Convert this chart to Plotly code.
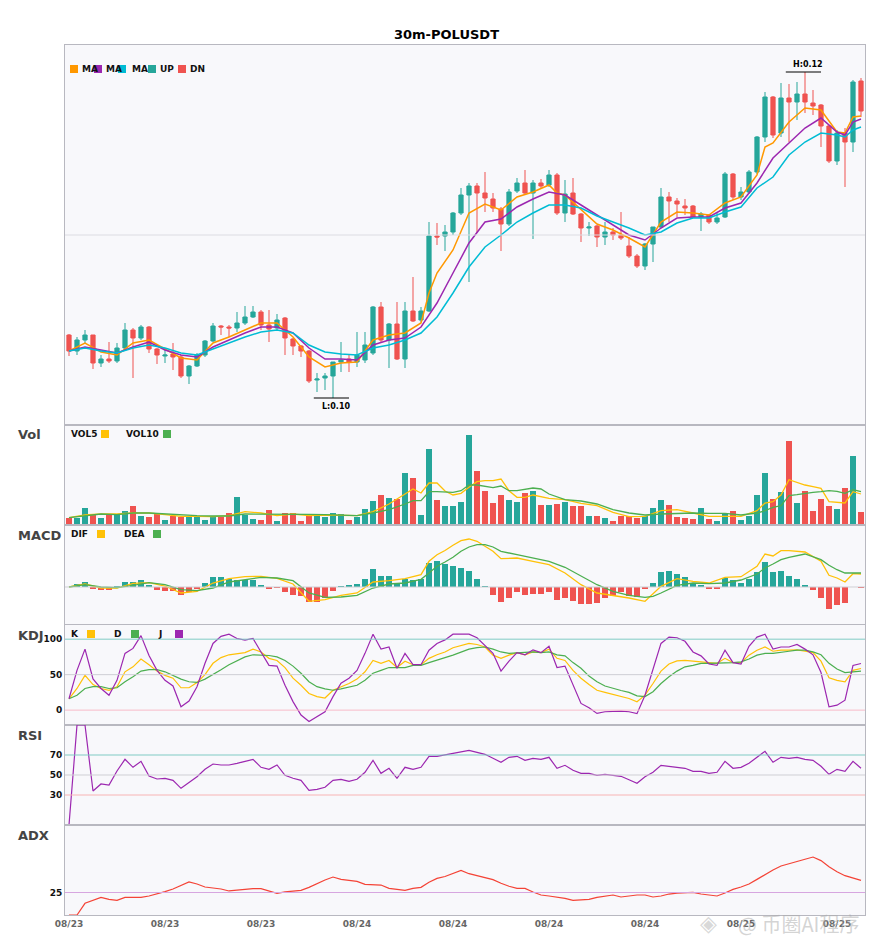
import plotly.graph_objects as go
from plotly.subplots import make_subplots

# 30m candles, index 0 = 08/23 06:00
opens = [0.10500, 0.10420, 0.10475, 0.10500, 0.10360, 0.10380, 0.10370, 0.10435, 0.10525, 0.10485,
         0.10540, 0.10430, 0.10395, 0.10405, 0.10390, 0.10295, 0.10345, 0.10400, 0.10470, 0.10545,
         0.10540, 0.10535, 0.10560, 0.10590, 0.10615, 0.10550, 0.10535, 0.10585, 0.10480, 0.10445,
         0.10420, 0.10275, 0.10285, 0.10295, 0.10365, 0.10380, 0.10365, 0.10375, 0.10410, 0.10640,
         0.10475, 0.10555, 0.10380, 0.10620, 0.10575, 0.10620, 0.10995, 0.10995, 0.11015, 0.11110,
         0.11200, 0.11245, 0.11210, 0.11180, 0.11130, 0.11055, 0.11220, 0.11260, 0.11210, 0.11260,
         0.11250, 0.11300, 0.11110, 0.11210, 0.11105, 0.11035, 0.11045, 0.10990, 0.11015, 0.11000,
         0.10945, 0.10895, 0.10845, 0.10955, 0.11040, 0.11190, 0.11170, 0.11145, 0.11145, 0.11090,
         0.11100, 0.11065, 0.11090, 0.11305, 0.11190, 0.11215, 0.11315, 0.11490, 0.11690, 0.11510,
         0.11685, 0.11665, 0.11705, 0.11660, 0.11650, 0.11545, 0.11370, 0.11510, 0.11465, 0.11770]
highs = [0.10505, 0.10490, 0.10525, 0.10500, 0.10400, 0.10465, 0.10460, 0.10560, 0.10535, 0.10550,
         0.10545, 0.10435, 0.10425, 0.10460, 0.10400, 0.10350, 0.10410, 0.10475, 0.10560, 0.10550,
         0.10550, 0.10615, 0.10645, 0.10645, 0.10625, 0.10625, 0.10605, 0.10590, 0.10485, 0.10450,
         0.10425, 0.10310, 0.10310, 0.10365, 0.10465, 0.10400, 0.10515, 0.10515, 0.10645, 0.10665,
         0.10560, 0.10665, 0.10665, 0.10790, 0.10640, 0.11065, 0.11060, 0.11050, 0.11115, 0.11235,
         0.11260, 0.11260, 0.11315, 0.11210, 0.11140, 0.11230, 0.11285, 0.11325, 0.11275, 0.11280,
         0.11325, 0.11310, 0.11275, 0.11285, 0.11110, 0.11065, 0.11050, 0.11065, 0.11035, 0.11115,
         0.10990, 0.10905, 0.10960, 0.11040, 0.11235, 0.11215, 0.11185, 0.11180, 0.11150, 0.11115,
         0.11105, 0.11115, 0.11315, 0.11310, 0.11240, 0.11325, 0.11495, 0.11715, 0.11695, 0.11760,
         0.11755, 0.11765, 0.11815, 0.11725, 0.11655, 0.11550, 0.11525, 0.11535, 0.11775, 0.11785]
lows = [0.10395, 0.10400, 0.10460, 0.10330, 0.10340, 0.10360, 0.10360, 0.10425, 0.10285, 0.10475,
        0.10410, 0.10355, 0.10360, 0.10325, 0.10285, 0.10255, 0.10340, 0.10390, 0.10465, 0.10500,
        0.10490, 0.10515, 0.10550, 0.10585, 0.10525, 0.10465, 0.10525, 0.10400, 0.10400, 0.10390,
        0.10260, 0.10215, 0.10225, 0.10185, 0.10315, 0.10315, 0.10340, 0.10360, 0.10400, 0.10465,
        0.10335, 0.10375, 0.10335, 0.10565, 0.10565, 0.10615, 0.10950, 0.10920, 0.11000, 0.11100,
        0.10765, 0.11010, 0.11115, 0.11115, 0.10920, 0.11045, 0.11210, 0.11200, 0.10980, 0.11235,
        0.11240, 0.11100, 0.11065, 0.11100, 0.10965, 0.10995, 0.10940, 0.10950, 0.10975, 0.10975,
        0.10885, 0.10835, 0.10825, 0.10865, 0.11035, 0.11065, 0.11090, 0.11100, 0.11085, 0.11020,
        0.11055, 0.11055, 0.11085, 0.11175, 0.11175, 0.11205, 0.11305, 0.11465, 0.11485, 0.11490,
        0.11465, 0.11575, 0.11610, 0.11600, 0.11440, 0.11360, 0.11350, 0.11240, 0.11415, 0.11590]
closes = [0.10420, 0.10475, 0.10500, 0.10360, 0.10380, 0.10370, 0.10435, 0.10525, 0.10485, 0.10540,
          0.10430, 0.10400, 0.10400, 0.10390, 0.10295, 0.10345, 0.10400, 0.10470, 0.10545, 0.10540,
          0.10535, 0.10560, 0.10590, 0.10615, 0.10550, 0.10530, 0.10575, 0.10485, 0.10445, 0.10420,
          0.10270, 0.10280, 0.10295, 0.10365, 0.10375, 0.10365, 0.10400, 0.10450, 0.10640, 0.10475,
          0.10555, 0.10380, 0.10620, 0.10570, 0.10620, 0.10995, 0.10990, 0.11015, 0.11110, 0.11200,
          0.11245, 0.11210, 0.11185, 0.11135, 0.11055, 0.11215, 0.11260, 0.11210, 0.11260, 0.11245,
          0.11300, 0.11110, 0.11205, 0.11105, 0.11035, 0.11040, 0.10990, 0.11015, 0.11000, 0.10985,
          0.10895, 0.10845, 0.10955, 0.11040, 0.11190, 0.11170, 0.11155, 0.11135, 0.11090, 0.11105,
          0.11065, 0.11085, 0.11305, 0.11190, 0.11215, 0.11315, 0.11490, 0.11690, 0.11500, 0.11685,
          0.11665, 0.11705, 0.11665, 0.11645, 0.11545, 0.11370, 0.11510, 0.11465, 0.11765, 0.11620]
volumes = [7.3, 7.3, 17.3, 11, 6.7, 10, 10, 14.3, 19.3, 9.3,
           8.3, 11.7, 5.3, 9.3, 7.7, 9.3, 9.3, 5.3, 8.3, 7.7,
           12, 28.3, 10, 6, 5.3, 15.3, 4.3, 12, 12, 4.3,
           10, 11, 8.3, 12, 11, 5.3, 7.7, 16, 24.3, 30.3,
           27.3, 26.3, 52.3, 46.7, 10.3, 76.3, 25.3, 18.7, 19.3, 22.7,
           90.3, 54.3, 34.3, 22.3, 30.3, 25.3, 23.3, 32.3, 34.3, 20.3,
           20.3, 21.3, 23.3, 19.3, 19.3, 9.3, 9.3, 7.3, 4.3, 9.3,
           9.3, 6.7, 8.7, 17.3, 25.3, 20.3, 8.3, 7.3, 6.3, 17.3,
           6.3, 4.3, 12, 14.3, 5.3, 9.3, 30.3, 52.3, 26.3, 33.3,
           84.3, 22.3, 34.3, 14.3, 26.3, 18.7, 16.3, 37.3, 69.3, 13.3]

date_ticks = [0, 12, 24, 36, 48, 60, 72, 84, 96]
date_labels = ["08/23", "08/23", "08/23", "08/24", "08/24", "08/24", "08/24", "08/25", "08/25"]

# moving averages (read at these candle indices)
ma5_idx = [0, 2, 4, 6, 8, 10, 12, 14, 16, 18, 20, 22, 24, 26, 28, 30, 32, 34, 36, 38, 40, 42, 44, 45, 46,
           48, 50, 52, 54, 56, 58, 60, 61, 62, 64, 66, 68, 70, 72, 74, 76, 78, 80, 82, 84, 86, 87, 88,
           90, 92, 94, 96, 97, 98, 99]
ma5 = [0.10420, 0.10460, 0.10415, 0.10400, 0.10460, 0.10475, 0.10430, 0.10385, 0.10375, 0.10460,
       0.10490, 0.10525, 0.10560, 0.10560, 0.10490, 0.10390, 0.10340, 0.10360, 0.10365, 0.10475,
       0.10500, 0.10510, 0.10560, 0.10710, 0.10810, 0.10925, 0.11110, 0.11155, 0.11125, 0.11190,
       0.11215, 0.11250, 0.11210, 0.11200, 0.11125, 0.11055, 0.11025, 0.10985, 0.10940, 0.11065,
       0.11115, 0.11110, 0.11100, 0.11160, 0.11190, 0.11300, 0.11440, 0.11460, 0.11565, 0.11635,
       0.11625, 0.11515, 0.11510, 0.11590, 0.11595]
ma_slow_idx = list(range(0, 97, 2)) + [97, 98, 99]
ma10 = [0.10420, 0.10440, 0.10425, 0.10410, 0.10440, 0.10465, 0.10425, 0.10400, 0.10390, 0.10440,
        0.10475, 0.10510, 0.10540, 0.10540, 0.10510, 0.10435, 0.10380, 0.10380, 0.10375, 0.10450,
        0.10475, 0.10485, 0.10540, 0.10660, 0.10810, 0.10960, 0.11065, 0.11080, 0.11140, 0.11180,
        0.11215, 0.11200, 0.11150, 0.11100, 0.11050, 0.11000, 0.10975, 0.11035, 0.11085, 0.11090,
        0.11090, 0.11135, 0.11160, 0.11260, 0.11385, 0.11460, 0.11535, 0.11585, 0.11515, 0.11500,
        0.11565, 0.11580]
ma20 = [0.10420, 0.10435, 0.10420, 0.10410, 0.10435, 0.10450, 0.10435, 0.10410, 0.10400, 0.10430,
        0.10460, 0.10490, 0.10515, 0.10525, 0.10510, 0.10450, 0.10415, 0.10405, 0.10400, 0.10435,
        0.10450, 0.10475, 0.10510, 0.10590, 0.10710, 0.10840, 0.10940, 0.11000, 0.11065, 0.11110,
        0.11150, 0.11150, 0.11135, 0.11095, 0.11065, 0.11035, 0.11000, 0.11015, 0.11060, 0.11085,
        0.11085, 0.11115, 0.11140, 0.11235, 0.11290, 0.11400, 0.11465, 0.11510, 0.11500, 0.11490,
        0.11525, 0.11540]

# volume averages
vol_line_idx = (list(range(0, 41, 2)) + list(range(42, 61)) + list(range(62, 87, 2))
                + list(range(87, 100)))
vol5 = [7.3, 10, 11, 11, 12, 12, 10.3, 8.7, 8.7, 8.3, 9.3, 13.3, 12, 9.3, 11, 9.3, 10, 10, 9.3, 13.3, 21,
        31, 36, 32, 42, 42, 34, 30, 31.7, 37.7, 43.3, 44.3, 44.3, 46, 34.3, 27.7, 27.7, 30, 28.7, 26.7,
        25.3, 21.7, 19.3, 12.7, 8.3, 8.7, 14.3, 15.3, 12, 8.7, 8.7, 8.7, 14.3,
        22, 23.3, 30, 45.3, 42.7, 40, 38.3, 36.7, 23.3, 22.7, 22, 33.3, 31]
vol10 = [7.3, 9.3, 11, 10.3, 12, 12, 11, 10, 9.3, 9, 9, 11, 11, 10.7, 11.3, 10.7, 10.3, 10, 9.3, 12, 15.3,
         21, 24.3, 24.3, 33.3, 33.3, 33, 32.7, 34.3, 40, 40, 38.3, 37.3, 39, 34.3, 34.3, 35.3, 37, 36, 31,
         25.3, 24, 21, 15.3, 12, 10, 11, 11.7, 12, 11.7, 11.7, 10, 12,
         14.3, 17.7, 19.3, 29.3, 30.3, 31.7, 32.7, 33.3, 34.3, 33.7, 31.7, 35.3, 33.3]

# MACD (x1e-5)
macd_hist = [0, 3, 5.3, -1.7, -3.3, -3, 0.3, 5.3, 5.3, 7.3,
             1.3, -3.3, -4.3, -4.3, -8.3, -5.3, -1.7, 4.3, 10.3, 10.3,
             8.3, 7.3, 7.3, 7.3, 2.3, -1.7, -1, -5.3, -8.3, -9.3,
             -15.3, -15.3, -11.3, -4.3, 0.3, 2.3, 3.3, 8.3, 18.3, 11.3,
             11.3, 3.3, 8.3, 7.3, 8.3, 24.3, 26.3, 23.3, 21.3, 19.3,
             16.3, 8.3, 0.3, -7.7, -15.3, -10.7, -5.3, -7.7, -6.7, -6.7,
             -4.7, -13.3, -11.3, -14.3, -17.3, -16.7, -16.3, -11.3, -9.3, -5.3,
             -9.3, -10.3, -2.3, 4.3, 15.3, 16.3, 13.3, 10.3, 4.3, 1.3,
             -1.3, -1.3, 9.3, 7.3, 4.3, 8.3, 15.3, 25.3, 15.3, 16.3,
             11.3, 8.3, 2.3, -3.3, -11.3, -22.3, -18.3, -16.3, 0, -0.7]
macd_line_idx = (list(range(0, 45, 2)) + list(range(45, 55)) + list(range(56, 73, 2)) + [73, 74]
                 + list(range(76, 87, 2)) + [87, 88, 89, 90, 92, 94, 95, 96, 97, 98, 99])
dif = [0, 3, -1, -1, 3.7, 4.3, 1, -6, -4.3, 4, 8.3, 10.3, 10.7, 8.7, 3, -14.3, -12.7, -8.3, -6, 5, 6.3, 8.3, 12.3,
       25.7, 32.3, 36.5, 41.7, 46.3, 48, 45.7, 40.7, 35.7, 28.3,
       29, 25.7, 22.3, 14, 2.3, -6, -8.3, -11, -14.3, -7, 0.7,
       8.3, 5.7, 4, 9.7, 10.3, 20.7, 33, 31, 36.3, 36.3, 35, 25.7, 11.7, 9, 5, 13.3, 13]
dea = [0, 2.3, 0, -0.7, 1.7, 4.3, 2.3, -2.7, -3.7, -1, 5, 7.3, 9.7, 9, 6.3, -6, -10.3, -10, -8.3, -1, 3, 4, 7.7,
       14, 20.7, 25, 29.7, 35.7, 40, 42.3, 42.3, 40, 35.7,
       32.3, 29, 25.7, 19.7, 10.7, 2.3, -4.3, -8.3, -10.3, -9.3, -6,
       1.7, 4, 3.3, 4, 7, 13, 19, 23, 27.3, 29.7, 33, 27.3, 21.7, 17.3, 14, 14, 14]

kdj_k = [16, 30.5, 49, 36, 30.5, 28, 33, 54, 61, 72, 64, 55, 49, 45, 31.5, 31.5, 39, 50, 66, 74,
         78, 80, 81, 86, 82, 73, 70, 60, 45, 35, 23.5, 19, 17, 28, 33, 37.5, 43.7, 54, 70, 66,
         70, 60, 69, 64, 64, 73, 78, 82, 88, 91.5, 94, 92.5, 89, 77.5, 73, 77.5, 81, 78, 82, 81,
         86, 73, 70, 56, 45, 36, 28, 25, 22, 20, 16.4, 11.7, 21, 37.5, 55, 65, 69.5, 70, 69, 67,
         66, 66, 73, 67, 67, 77.5, 84.5, 89, 83, 84.5, 84.5, 85, 83, 81, 69, 45.5, 42, 40, 56, 58.7]
kdj_d = [16, 21, 30.5, 33, 33, 30.5, 31.5, 40, 47, 55, 57, 57, 54, 49, 43.7, 40, 39, 43.7, 50, 57,
         64, 70, 75, 78, 78, 77, 75, 70, 62, 52, 40, 33, 30, 28, 30, 33, 35, 42, 52, 56,
         60, 60, 60, 63, 63, 67, 71, 74, 77.5, 82, 86, 88, 89, 86, 82, 80, 81, 81, 82, 81,
         82, 78, 76.5, 67, 59, 48, 40, 34, 30.5, 27.7, 25, 20, 19, 26, 37.5, 47, 55, 61, 63, 66,
         66, 66, 67, 67, 68, 72, 77.5, 80, 80, 82, 83, 84.5, 84.5, 82, 78, 66, 58, 53, 54, 55]
kdj_j = [16, 56, 86, 44, 30.5, 21, 42, 80, 87, 105, 77, 56, 42, 34, 4.7, 12.7, 33, 66, 94, 104,
         107, 101, 98.6, 101, 82, 63, 62, 35, 12, -7, -16, -9, -2.3, 19, 38, 45, 56, 80, 107, 86,
         89, 59, 80, 64, 64, 84.5, 94, 99, 107, 107, 107, 102, 91.5, 80, 55, 69, 81, 78, 85, 81,
         90, 60, 62, 35, 9.4, 3.3, -4.7, -2.3, -1.4, -1.4, -2.3, -5, 21, 59, 94, 103, 102, 97, 82, 76.5,
         65, 63, 84.5, 67, 65, 90, 103, 107, 86, 89, 89, 92.5, 86, 78, 53, 4.7, 7, 14, 63, 65.7]

rsi = [0, 100, 100, 34, 41, 40, 54, 65.7, 57.7, 63.7, 49, 46, 46.7, 44.7, 36.7, 42.7, 48.3, 55.7, 61, 60,
       60, 61.7, 63.7, 65.7, 57.7, 55.7, 60, 49.7, 46.7, 44.7, 34.7, 35.7, 37.7, 44.7, 45.7, 43.7, 45.7,
       52.7, 64.7, 51.7, 56.7, 46.7, 57.7, 55.7, 57.7, 68.7, 68.7, 70.2, 71.7, 73.7, 74.7, 72.7, 70.7,
       66.7, 62.7, 67.7, 68.7, 64.7, 66.7, 65.7, 67.7, 56.7, 59.7, 54.7, 51.7, 51.7, 49.7, 50.7, 49.7,
       48.7, 45.3, 41.7, 48.3, 52.7, 59.7, 58.7, 57.7, 56.7, 53.7, 53.7, 51.7, 52.7, 63.7, 56.7, 57.7,
       61.7, 67.7, 73.7, 62.7, 67.7, 66.7, 67.7, 65.7, 64.7, 58.7, 50.7, 55.7, 53.7, 63.7, 56.7]

adx = [0, 0, 13, 16.7, 19.6, 17.4, 16.3, 19.6, 19.6, 19.6, 21.1, 23.3, 25.9, 28.9, 32.6, 36.7, 34.4, 31.1,
       30, 28.9, 26.7, 27.8, 28.9, 29.3, 29.3, 26.7, 24.1, 25.6, 26.7, 27.4, 30.7, 35.2, 38.9, 42.2, 39.6,
       38.5, 37.4, 34.1, 33.3, 33.3, 29.6, 28.5, 27.4, 29.6, 30.7, 36.3, 40.7, 42.8, 46.3, 49.6, 45.9,
       43.7, 41.5, 39.3, 35.2, 31.9, 29.6, 29.6, 25.6, 22.2, 21.1, 20, 18.5, 16.3, 17, 17.4, 19.6, 21.1,
       22.2, 20, 21.1, 22.2, 22.2, 20, 21.1, 23.3, 24.4, 25.2, 25.2, 23.3, 22.2, 21.1, 24.4, 28.5, 31.1,
       34.4, 39.6, 45.2, 50, 54.4, 56.7, 58.9, 61.9, 64.4, 60.4, 53.7, 48.1, 43.7, 40.7, 38.5]

UP = "#26A69A"
DN = "#EF5350"
ORANGE = "#FF9800"
PURPLE = "#9C27B0"
CYAN = "#00BCD4"
YELLOW = "#FFC107"
GREEN = "#4CAF50"
ADX_RED = "#F44336"
FONT = "DejaVu Sans"

# page has an 8px body margin, so the figure is 8px smaller and margins shifted
W, H = 877, 942

idx = list(range(len(closes)))
candle_colors = [UP if c >= o else DN for o, c in zip(opens, closes)]
hist_colors = [UP if v >= 0 else DN for v in macd_hist]

fig = make_subplots(rows=6, cols=1, shared_xaxes=True, vertical_spacing=0,
                    row_heights=[380, 100, 100, 100, 100, 90])

fig.add_trace(go.Candlestick(x=idx, open=opens, high=highs, low=lows, close=closes,
                             increasing=dict(line=dict(color=UP, width=1), fillcolor=UP),
                             decreasing=dict(line=dict(color=DN, width=1), fillcolor=DN),
                             showlegend=False), row=1, col=1)
fig.add_trace(go.Scatter(x=ma5_idx, y=ma5, mode="lines", line=dict(color=ORANGE, width=1.5)), row=1, col=1)
fig.add_trace(go.Scatter(x=ma_slow_idx, y=ma10, mode="lines", line=dict(color=PURPLE, width=1.5)), row=1, col=1)
fig.add_trace(go.Scatter(x=ma_slow_idx, y=ma20, mode="lines", line=dict(color=CYAN, width=1.5)), row=1, col=1)

fig.add_trace(go.Bar(x=idx, y=volumes, marker=dict(color=candle_colors, line_width=0), width=0.75), row=2, col=1)
fig.add_trace(go.Scatter(x=vol_line_idx, y=vol5, mode="lines", line=dict(color=YELLOW, width=1.3)), row=2, col=1)
fig.add_trace(go.Scatter(x=vol_line_idx, y=vol10, mode="lines", line=dict(color=GREEN, width=1.3)), row=2, col=1)

fig.add_trace(go.Bar(x=idx, y=macd_hist, marker=dict(color=hist_colors, line_width=0), width=0.75), row=3, col=1)
fig.add_trace(go.Scatter(x=macd_line_idx, y=dif, mode="lines", line=dict(color=YELLOW, width=1.3)), row=3, col=1)
fig.add_trace(go.Scatter(x=macd_line_idx, y=dea, mode="lines", line=dict(color=GREEN, width=1.3)), row=3, col=1)

fig.add_trace(go.Scatter(x=idx, y=kdj_k, mode="lines", line=dict(color=YELLOW, width=1.2)), row=4, col=1)
fig.add_trace(go.Scatter(x=idx, y=kdj_d, mode="lines", line=dict(color=GREEN, width=1.2)), row=4, col=1)
fig.add_trace(go.Scatter(x=idx, y=kdj_j, mode="lines", line=dict(color=PURPLE, width=1.2)), row=4, col=1)

fig.add_trace(go.Scatter(x=idx, y=rsi, mode="lines", line=dict(color=PURPLE, width=1.2)), row=5, col=1)
fig.add_trace(go.Scatter(x=idx, y=adx, mode="lines", line=dict(color=ADX_RED, width=1.2)), row=6, col=1)

# reference lines
fig.add_hline(y=0.11, line=dict(color="#dcdce2", width=1), row=1, col=1)
fig.add_hline(y=0, line=dict(color="#cfcfd4", width=1), row=3, col=1)
fig.add_hline(y=100, line=dict(color="#80CBC4", width=1), row=4, col=1)
fig.add_hline(y=50, line=dict(color="#cfcfd4", width=1), row=4, col=1)
fig.add_hline(y=0, line=dict(color="#F8BBC8", width=1), row=4, col=1)
fig.add_hline(y=70, line=dict(color="#80CBC4", width=1), row=5, col=1)
fig.add_hline(y=50, line=dict(color="#cfcfd4", width=1), row=5, col=1)
fig.add_hline(y=30, line=dict(color="#F8B4B4", width=1), row=5, col=1)
fig.add_hline(y=25, line=dict(color="#D7A6E0", width=1), row=6, col=1)

# high / low markers
hi_i = max(idx, key=lambda k: highs[k])
lo_i = min(idx, key=lambda k: lows[k])
fig.add_shape(type="line", xref="x", yref="y", x0=hi_i - 2.4, x1=hi_i + 2, y0=highs[hi_i], y1=highs[hi_i],
              line=dict(color="black", width=1.2))
fig.add_annotation(xref="x", yref="y", x=hi_i + 0.4, y=highs[hi_i], yanchor="bottom", yshift=1,
                   text=f"<b>H:{highs[hi_i]:.2f}</b>", showarrow=False, font=dict(size=8, color="black"))
fig.add_shape(type="line", xref="x", yref="y", x0=lo_i - 2.4, x1=lo_i + 2, y0=lows[lo_i], y1=lows[lo_i],
              line=dict(color="black", width=1.2))
fig.add_annotation(xref="x", yref="y", x=lo_i + 0.4, y=lows[lo_i], yanchor="top", yshift=-2,
                   text=f"<b>L:{lows[lo_i]:.2f}</b>", showarrow=False, font=dict(size=8, color="black"))


def px_x(p):
    return (p - 65) / 800


def px_y(p):
    return (915 - p) / 870


def legend_row(items, y_px):
    for label, color, text_px, sq_px in items:
        fig.add_annotation(xref="paper", yref="paper", x=px_x(text_px), y=px_y(y_px), xanchor="left",
                           yanchor="middle", text=f"<b>{label}</b>", showarrow=False,
                           font=dict(size=9, color="#111"))
        fig.add_shape(type="rect", xref="paper", yref="paper", x0=px_x(sq_px), x1=px_x(sq_px + 8),
                      y0=px_y(y_px + 4), y1=px_y(y_px - 4), fillcolor=color, line_width=0, layer="above")


legend_row([("MA", ORANGE, 80, 70), ("MA", PURPLE, 104, 94), ("MA", CYAN, 130, 118),
            ("UP", UP, 158, 148), ("DN", DN, 188, 178)], 69)
legend_row([("VOL5", YELLOW, 69, 101), ("VOL10", GREEN, 124, 163)], 434)
legend_row([("DIF", YELLOW, 69, 97), ("DEA", GREEN, 122, 153)], 534)
legend_row([("K", YELLOW, 69, 87), ("D", GREEN, 112, 131), ("J", PURPLE, 156, 175)], 634)

for name, y_px in [("Vol", 434), ("MACD", 535), ("KDJ", 635), ("RSI", 735), ("ADX", 835)]:
    fig.add_annotation(xref="paper", yref="paper", x=px_x(16), y=px_y(y_px), xanchor="left", yanchor="middle",
                       text=f"<b>{name}</b>", showarrow=False, font=dict(size=13, color="#444"))

# platform watermark
fig.add_annotation(xref="paper", yref="paper", x=px_x(698), y=px_y(923), xanchor="left", yanchor="middle",
                   text="◈", showarrow=False,
                   font=dict(size=22, color="rgba(170,170,170,0.45)"))
fig.add_annotation(xref="paper", yref="paper", x=px_x(736), y=px_y(923), xanchor="left", yanchor="middle",
                   text="@ 币圈AI程序", showarrow=False,
                   font=dict(size=20, color="rgba(170,170,170,0.5)", family="Noto Sans CJK SC"))

fig.update_xaxes(range=[-0.5, 99.5], showgrid=False, zeroline=False, showline=True, mirror=True,
                 linecolor="#b8b8c0", linewidth=1, ticks="", rangeslider_visible=False)
fig.update_xaxes(tickvals=date_ticks, ticktext=date_labels, showticklabels=True,
                 tickfont=dict(size=9, color="#666", weight="bold"), row=6, col=1)
fig.update_yaxes(showgrid=False, zeroline=False, showline=True, mirror=True, linecolor="#b8b8c0",
                 linewidth=1, ticks="", showticklabels=False,
                 tickfont=dict(size=9, color="#111", weight="bold"))
fig.update_yaxes(range=[0.1005, 0.1195], row=1, col=1)
fig.update_yaxes(range=[0, 100], row=2, col=1)
fig.update_yaxes(range=[-38, 62], row=3, col=1)
fig.update_yaxes(range=[-21, 120], tickvals=[0, 50, 100], showticklabels=True, row=4, col=1)
fig.update_yaxes(range=[0, 100], tickvals=[30, 50, 70], showticklabels=True, row=5, col=1)
fig.update_yaxes(range=[0, 100], tickvals=[25], showticklabels=True, row=6, col=1)

fig.update_layout(
    width=W, height=H,
    margin=dict(l=57, r=20, t=37, b=35),
    title=dict(text="<b>30m-POLUSDT</b>", x=0.5, xref="container", y=1 - 26 / H, yanchor="middle",
               font=dict(size=13, color="black")),
    font=dict(family=FONT),
    paper_bgcolor="white",
    plot_bgcolor="#f8f8fb",
    showlegend=False,
    bargap=0,
    boxgap=0.25,
)

fig.write_html("out.html")
